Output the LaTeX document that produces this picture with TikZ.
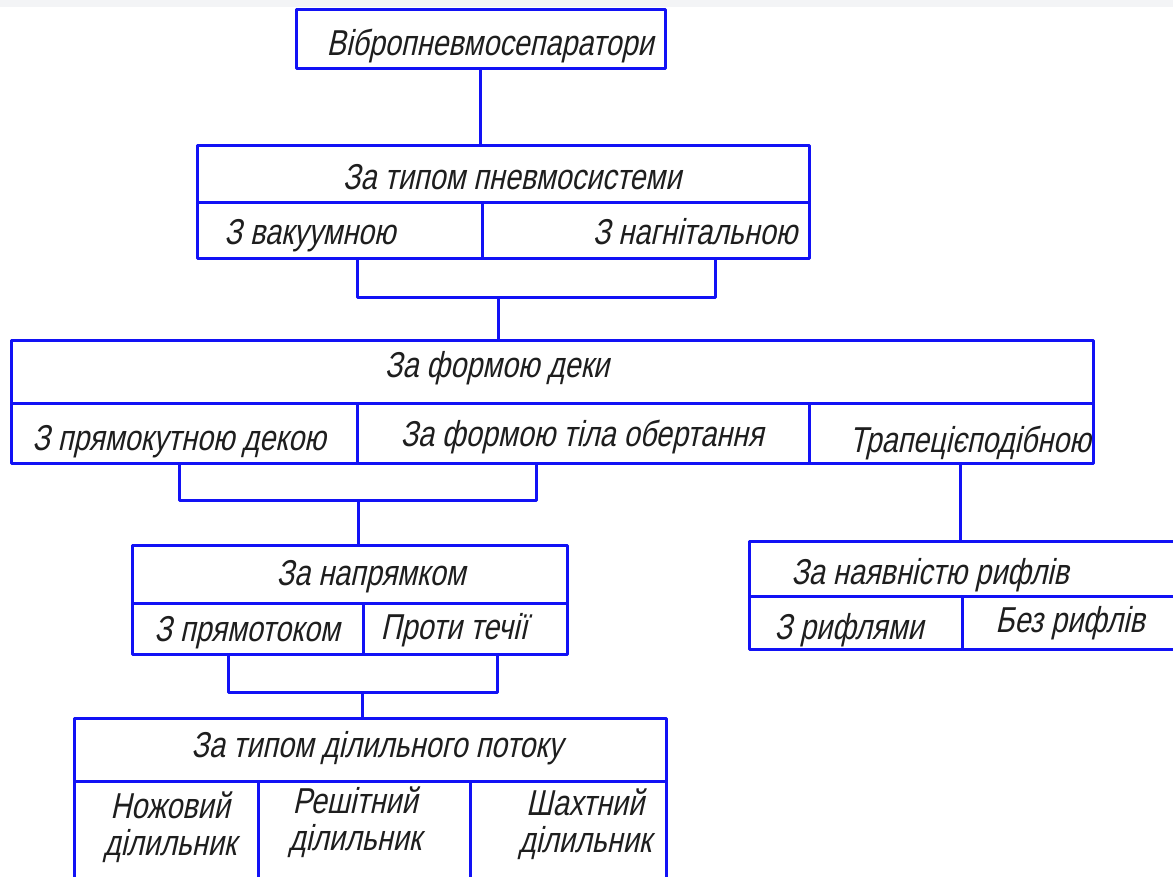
\documentclass[tikz,border=0pt]{standalone}
\usepackage{fontspec}
\newfontfamily\gost[FakeSlant=0.22,FakeStretch=0.8]{Liberation Sans}
\definecolor{lineblue}{RGB}{18,18,245}
\definecolor{txt}{RGB}{30,30,30}
\definecolor{topband}{RGB}{243,244,246}
\tikzset{
  cell/.style={draw=lineblue, line width=3pt, rectangle, inner sep=0pt, line join=round},
  lbl/.style={text=txt, font=\gost\fontsize{36}{36}\selectfont, inner sep=0pt, anchor=base},
  lbl2/.style={lbl, align=center, font=\gost\fontsize{36}{37}\selectfont},
  conn/.style={draw=lineblue, line width=3pt, line join=round}
}
\begin{document}
\begin{tikzpicture}[x=1pt,y=-1pt]
\path[use as bounding box] (0,0) rectangle (1173,876);
\clip (0,0) rectangle (1173,876);
\fill[white] (0,0) rectangle (1173,876);
\fill[topband] (0,0) rectangle (1173,7);

% Box 1
\node[cell, minimum width=369pt, minimum height=59pt] (b1) at (480.5,38.5) {};
\node[lbl] (l1) at (490,55) {Вібропневмосепаратори};

% Box 2
\node[cell, minimum width=612pt, minimum height=57pt] (t2) at (503,173.5) {};
\node[cell, minimum width=285pt, minimum height=56pt] (c2a) at (339.5,230) {};
\node[cell, minimum width=327pt, minimum height=56pt] (c2b) at (645.5,230) {};
\node[lbl] (l2) at (512,189) {За типом пневмосистеми};
\node[lbl] (l2a) at (310,244) {З вакуумною};
\node[lbl] (l2b) at (695,244) {З нагнітальною};

% Box 3
\node[cell, minimum width=1082pt, minimum height=63pt] (t3) at (552,371.5) {};
\node[cell, minimum width=346pt, minimum height=60pt] (c3a) at (184,433) {};
\node[cell, minimum width=452pt, minimum height=60pt] (c3b) at (583,433) {};
\node[cell, minimum width=284pt, minimum height=60pt] (c3c) at (951,433) {};
\node[lbl] (l3) at (497,377) {За формою деки};
\node[lbl] (l3a) at (179,450) {З прямокутною декою};
\node[lbl] (l3b) at (582,446) {За формою тіла обертання};
\node[lbl] (l3c) at (970,452) {Трапецієподібною};

% Box 4
\node[cell, minimum width=435pt, minimum height=58pt] (t4) at (349.5,574) {};
\node[cell, minimum width=231pt, minimum height=51pt] (c4a) at (247.5,628.5) {};
\node[cell, minimum width=204pt, minimum height=51pt] (c4b) at (465,628.5) {};
\node[lbl] (l4) at (371,585) {За напрямком};
\node[lbl] (l4a) at (247,641) {З прямотоком};
\node[lbl] (l4b) at (454,639) {Проти течії};

% Box 5
\node[cell, minimum width=431pt, minimum height=55pt] (t5) at (964.5,568.5) {};
\node[cell, minimum width=213pt, minimum height=53pt] (c5a) at (855.5,622.5) {};
\node[cell, minimum width=218pt, minimum height=53pt] (c5b) at (1071,622.5) {};
\node[lbl] (l5) at (930,584) {За наявністю рифлів};
\node[lbl] (l5a) at (849,639) {З рифлями};
\node[lbl] (l5b) at (1070,632) {Без рифлів};

% Box 6
\node[cell, minimum width=592pt, minimum height=63pt] (t6) at (370,749.5) {};
\node[cell, minimum width=184pt, minimum height=109pt] (c6a) at (166,835.5) {};
\node[cell, minimum width=212pt, minimum height=109pt] (c6b) at (364,835.5) {};
\node[cell, minimum width=196pt, minimum height=109pt] (c6c) at (568,835.5) {};
\node[lbl] (l6) at (377,757) {За типом ділильного потоку};
\node[lbl2] (l6a) at (170,855) {Ножовий\\ділильник};
\node[lbl2] (l6b) at (355,850) {Решітний\\ділильник};
\node[lbl2] (l6c) at (585,852) {Шахтний\\ділильник};

% Connectors
\coordinate (j2l) at (357,297);
\coordinate (j2) at (498,297);
\coordinate (j2r) at (715,297);
\coordinate (j3l) at (179,500);
\coordinate (j3) at (358,500);
\coordinate (j3r) at (536,500);
\coordinate (j3c) at (960,500);
\coordinate (j4l) at (228,692);
\coordinate (j4) at (362,692);
\coordinate (j4r) at (497,692);

\draw[conn] (b1.south) -- (b1.south |- t2.north);
\draw[conn] (c2a.south -| j2l) -- (j2l) -- (j2r) -- (c2b.south -| j2r);
\draw[conn] (j2) -- (t3.north -| j2);
\draw[conn] (c3a.south -| j3l) -- (j3l) -- (j3r) -- (c3b.south -| j3r);
\draw[conn] (j3) -- (t4.north -| j3);
\draw[conn] (c3c.south -| j3c) -- (t5.north -| j3c);
\draw[conn] (c4a.south -| j4l) -- (j4l) -- (j4r) -- (c4b.south -| j4r);
\draw[conn] (j4) -- (t6.north -| j4);
\end{tikzpicture}
\end{document}
